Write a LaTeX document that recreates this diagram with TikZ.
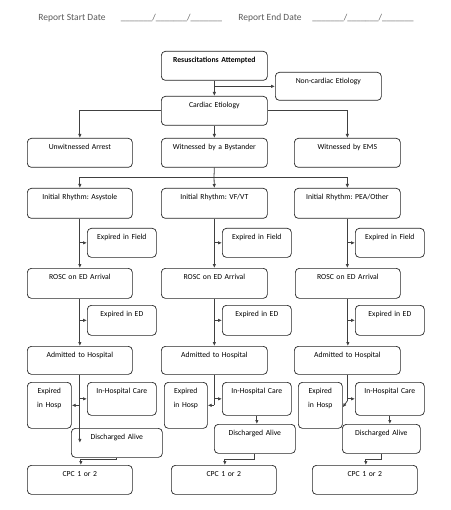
\documentclass[tikz,border=0pt]{standalone}
\usepackage{fontspec}
\setmainfont{Carlito}
\frenchspacing
\usetikzlibrary{arrows.meta,calc}
\tikzset{
  box/.style={draw=black!85, line width=0.7pt, rounded corners=4pt, inner sep=0pt, align=center, font=\fontsize{7.7}{9}\selectfont},
  conn/.style={draw=black!75, line width=0.8pt},
  arr/.style={conn, -{Latex[length=4pt,width=3.5pt]}},
  hdr/.style={font=\fontsize{9.5}{11}\selectfont, text=black!65, inner sep=0pt},
  blank/.style={font=\fontsize{9}{11}\selectfont, text=black!65, inner sep=0pt},
}
\newcommand\Bx[7][]{%
  \pgfmathsetmacro\bxw{#5-#3}\pgfmathsetmacro\bxd{#6-#4-11.5}%
  \node[box, #1, anchor=north west, text width=\bxw pt, text height=11.5pt, text depth=\bxd pt] (#2) at (#3,#4) {#7};}
\begin{document}
\begin{tikzpicture}[x=1pt,y=-1pt]
\useasboundingbox (0,0) rectangle (450,510);
% header
\node[hdr] (rsd) at (72,18) {Report Start Date};
\node[blank] (rsdb) at (171.5,18) {\_\_\_\_\_\_\_/\_\_\_\_\_\_\_/\_\_\_\_\_\_\_};
\node[hdr] (red) at (270,18) {Report End Date};
\node[blank] (redb) at (363,18) {\_\_\_\_\_\_\_/\_\_\_\_\_\_\_/\_\_\_\_\_\_\_};
% boxes
\Bx[font=\fontsize{7.7}{9}\selectfont\bfseries]{resus}{161}{51}{267}{80}{Resuscitations Attempted}
\Bx{noncard}{275}{72}{381}{100}{Non-cardiac Etiology}
\Bx{cardiac}{161}{96}{267}{125}{Cardiac Etiology}
\Bx{unw}{27}{138}{132}{167}{Unwitnessed Arrest}
\Bx{byst}{161}{138}{267}{167}{Witnessed by a Bystander}
\Bx{ems}{294}{138}{400}{167}{Witnessed by EMS}
\Bx{ir1}{27}{188}{132}{218}{Initial Rhythm: Asystole}
\Bx{ir2}{161}{188}{267}{218}{Initial Rhythm: VF/VT}
\Bx{ir3}{294}{188}{400}{218}{Initial Rhythm: PEA/Other}
\Bx{fld1}{87}{228}{156}{257}{Expired in Field}
\Bx{fld2}{222}{228}{291}{257}{Expired in Field}
\Bx{fld3}{355}{228}{424}{257}{Expired in Field}
\Bx{rosc1}{27}{268}{132}{298}{ROSC on ED Arrival}
\Bx{rosc2}{161}{268}{267}{298}{ROSC on ED Arrival}
\Bx{rosc3}{295}{268}{400}{298}{ROSC on ED Arrival}
\Bx{ed1}{87}{305}{156}{335}{Expired in ED}
\Bx{ed2}{222}{305}{291}{335}{Expired in ED}
\Bx{ed3}{355}{305}{424}{335}{Expired in ED}
\Bx{adm1}{27}{346}{132}{374}{Admitted to Hospital}
\Bx{adm2}{161}{346}{267}{374}{Admitted to Hospital}
\Bx{adm3}{294}{346}{400}{374}{Admitted to Hospital}
\Bx[font=\fontsize{7.7}{14}\selectfont]{exp1}{27}{382}{71}{428}{Expired\\in Hosp}
\Bx[font=\fontsize{7.7}{14}\selectfont]{exp2}{164}{382}{207}{428}{Expired\\in Hosp}
\Bx[font=\fontsize{7.7}{14}\selectfont]{exp3}{298}{382}{342}{428}{Expired\\in Hosp}
\Bx{ihc1}{87}{382}{156}{415}{In-Hospital Care}
\Bx{ihc2}{222}{382}{291}{415}{In-Hospital Care}
\Bx{ihc3}{355}{382}{424}{415}{In-Hospital Care}
\Bx{dis1}{71}{428}{162}{457}{Discharged Alive}
\Bx{dis2}{214}{424}{295}{453}{Discharged Alive}
\Bx{dis3}{342}{424}{420}{453}{Discharged Alive}
\Bx{cpc1}{27}{465}{132}{494}{CPC 1 or 2}
\Bx{cpc2}{171}{465}{276}{494}{CPC 1 or 2}
\Bx{cpc3}{312}{465}{417}{494}{CPC 1 or 2}
% connectors
\draw[arr] (resus.south) -- (cardiac.north);
\draw[arr] (resus.south |- noncard.west) -- (noncard.west);
\draw[arr] (cardiac.west) -| (unw.north);
\draw[arr] (cardiac.south) -- (byst.north);
\draw[arr] (cardiac.east) -| (ems.north);
\coordinate (split) at (214,177);
\draw[conn] (byst.south) -- (split);
\draw[arr] (split) -| (ir1.north);
\draw[arr] (split) -- (ir2.north);
\draw[arr] (split) -| (ir3.north);
\foreach \i in {1,2,3}{
  \draw[arr] (ir\i.south) -- (ir\i.south |- rosc\i.north);
  \draw[arr] (ir\i.south |- fld\i.west) -- (fld\i.west);
  \draw[arr] (rosc\i.south) -- (rosc\i.south |- adm\i.north);
  \draw[arr] (rosc\i.south |- ed\i.west) -- (ed\i.west);
  \draw[arr] (adm\i.south |- ihc\i.west) -- (ihc\i.west);
  \draw[arr] (dis\i.south) |- ([yshift=6pt]cpc\i.north -| dis\i.south) -| ([xshift=1pt]cpc\i.north);
}
\draw[arr] (adm1.south) -- (adm1.south |- dis1.center);
\draw[arr] (adm1.south |- exp1.east) -- (exp1.east);
\draw[conn] (adm2.south) -- (adm2.south |- exp2.east);
\draw[arr] (adm2.south |- exp2.east) -- (exp2.east);
\draw[conn] (adm3.south) -- ([yshift=-2pt]adm3.south |- ihc3.west);
\draw[arr] ([yshift=-2pt]adm3.south |- ihc3.west) -- ([yshift=-2pt]exp3.east);
\draw[arr] (ihc2.south) -- (ihc2.south |- dis2.north);
\draw[arr] (ihc3.south) -- (ihc3.south |- dis3.north);
\end{tikzpicture}
\end{document}
